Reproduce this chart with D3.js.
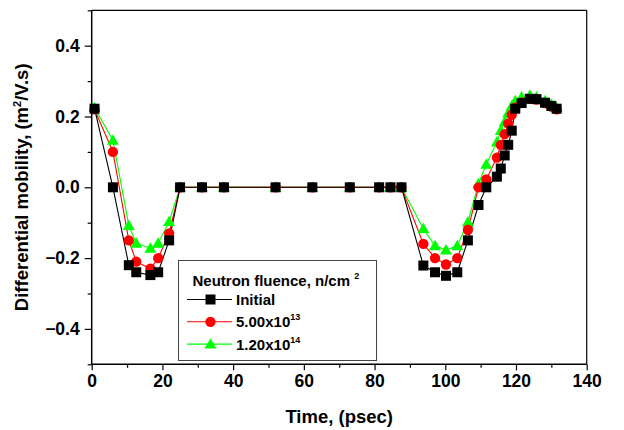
<!DOCTYPE html>
<html>
<head>
<meta charset="utf-8">
<script src="https://cdn.jsdelivr.net/npm/d3@7"></script>
<style>
  html, body { margin: 0; padding: 0; background: #fff; }
  svg { display: block; font-family: "Liberation Sans", Arial, sans-serif; font-weight: bold; }
</style>
</head>
<body>
<svg id="chart" width="624" height="430"></svg>
<script>
// Sampling times (psec)
const time = [0.8, 6, 10.5, 12.6, 16.6, 18.8, 21.9, 25, 31.2, 37.4, 52, 62.4, 73, 81.3, 84.5, 87.6,
  93.8, 97.1, 100.2, 103.4, 106.4, 109.4, 111.6, 114.6, 115.7, 116.8, 117.8, 118.8, 119.8,
  121.6, 123.9, 125.8, 128.2, 130.0, 131.5];

// Differential mobility (m^2/V.s) for each neutron fluence
const initial = [0.222, 0.0, -0.22, -0.24, -0.248, -0.24, -0.15, 0, 0, 0, 0, 0, 0, 0, 0, 0,
  -0.221, -0.24, -0.25, -0.24, -0.15, -0.05, 0.0, 0.03, 0.053, 0.09, 0.12, 0.16, 0.222,
  0.238, 0.25, 0.249, 0.239, 0.23, 0.222];
const fluence5e13 = [0.22, 0.10, -0.15, -0.21, -0.23, -0.20, -0.13, 0, 0, 0, 0, 0, 0, 0, 0, 0,
  -0.16, -0.20, -0.218, -0.20, -0.12, 0.0, 0.022, 0.084, 0.12, 0.15, 0.18, 0.205, 0.225,
  0.24, 0.25, 0.248, 0.238, 0.228, 0.22];
const fluence12e14 = [0.225, 0.133, -0.108, -0.158, -0.172, -0.158, -0.097, 0, 0, 0, 0, 0, 0, 0, 0, 0,
  -0.117, -0.165, -0.177, -0.165, -0.098, 0.01, 0.065, 0.128, 0.16, 0.185, 0.21, 0.23, 0.245,
  0.255, 0.26, 0.255, 0.245, 0.235, 0.225];

const xTicks = [0, 20, 40, 60, 80, 100, 120, 140];
const yTicks = [-0.4, -0.2, 0.0, 0.2, 0.4];

const seriesNames = ["Initial", "5.00x10", "1.20x10"];
const seriesExp = ["", "13", "14"];

const svg = d3.select("#chart");
const M = { left: 91.7, right: 586.7, top: 10.3, bottom: 364.3 };

const x = d3.scaleLinear().domain([0, 140]).range([M.left, M.right]);
const y = d3.scaleLinear().domain([-0.5, 0.5]).range([M.bottom, M.top]);

const series = [
  { name: seriesNames[2], exp: seriesExp[2], values: fluence12e14, color: "#00ff00", symbol: d3.symbolTriangle, size: 62 },
  { name: seriesNames[1], exp: seriesExp[1], values: fluence5e13, color: "#ff0000", symbol: d3.symbolCircle, size: 84 },
  { name: seriesNames[0], exp: seriesExp[0], values: initial, color: "#000000", symbol: d3.symbolSquare, size: 100 }
];

// Data lines and markers (highest fluence drawn first, initial on top)
const line = d3.line().x((d, i) => x(time[i])).y(d => y(d));
series.forEach(s => {
  svg.append("path")
    .attr("d", line(s.values))
    .attr("fill", "none")
    .attr("stroke", s.color)
    .attr("stroke-width", 1.1);
});
series.forEach(s => {
  const sym = d3.symbol().type(s.symbol).size(s.size);
  svg.append("g").selectAll("path")
    .data(s.values)
    .join("path")
    .attr("d", sym)
    .attr("transform", (d, i) => `translate(${x(time[i])},${y(d) + (s.symbol === d3.symbolTriangle ? 1 : 0)})`)
    .attr("fill", s.color);
});

// Frame (top and right)
svg.append("line").attr("x1", M.left).attr("x2", M.right).attr("y1", M.top).attr("y2", M.top)
  .attr("stroke", "#000").attr("stroke-width", 1.2);
svg.append("line").attr("x1", M.right).attr("x2", M.right).attr("y1", M.top).attr("y2", M.bottom)
  .attr("stroke", "#000").attr("stroke-width", 1.2);

// Axes with major ticks
const xAxis = d3.axisBottom(x).tickValues(xTicks).tickFormat(d3.format("d")).tickSize(6).tickPadding(4);
const yAxis = d3.axisLeft(y).tickValues(yTicks)
  .tickFormat(d => d3.format(".1f")(d).replace("-", "\u2212")).tickSize(7).tickPadding(5);

const gx = svg.append("g").attr("transform", `translate(0,${M.bottom})`).call(xAxis);
const gy = svg.append("g").attr("transform", `translate(${M.left},0)`).call(yAxis);
gx.select(".domain").attr("d", `M${M.left},0H${M.right}`).attr("stroke-width", 1.5);
gy.select(".domain").attr("d", `M0,${M.top}V${M.bottom}`).attr("stroke-width", 1.5);

// Minor ticks
svg.append("g").attr("transform", `translate(0,${M.bottom})`)
  .call(d3.axisBottom(x).tickValues(d3.range(10, 140, 20)).tickSize(3.5).tickFormat(""))
  .select(".domain").remove();
svg.append("g").attr("transform", `translate(${M.left},0)`)
  .call(d3.axisLeft(y).tickValues([-0.5, -0.3, -0.1, 0.1, 0.3, 0.5]).tickSize(4).tickFormat(""))
  .select(".domain").remove();

svg.selectAll(".tick line").attr("stroke-width", 1.2);
svg.selectAll(".tick text").attr("font-size", 17.5).attr("font-weight", "bold")
  .attr("font-family", "'Liberation Sans', Arial, sans-serif").attr("fill", "#000");

// Axis titles
svg.append("text")
  .attr("x", (M.left + M.right) / 2).attr("y", 422.5)
  .attr("text-anchor", "middle").attr("font-size", 18.5)
  .text("Time, (psec)");

const yt = svg.append("text")
  .attr("transform", `translate(27.5,${(M.top + M.bottom) / 2}) rotate(-90)`)
  .attr("text-anchor", "middle").attr("font-size", 18.5);
yt.append("tspan").text("Differential mobility, (m");
yt.append("tspan").attr("font-size", 11).attr("dy", -7).text("2");
yt.append("tspan").attr("dy", 7).text("/V.s)");

// Legend
const lg = svg.append("g");
lg.append("rect").attr("x", 178.5).attr("y", 260.5).attr("width", 198).attr("height", 100)
  .attr("fill", "#fff").attr("stroke", "#444").attr("stroke-width", 1);
const lt = lg.append("text").attr("x", 192.5).attr("y", 285.5).attr("font-size", 15);
lt.append("tspan").text("Neutron fluence, n/cm ");
lt.append("tspan").attr("font-size", 9).attr("dy", -7).text("2");

const legendOrder = [series[2], series[1], series[0]];
legendOrder.forEach((s, i) => {
  const ly = 299.5 + i * 22.3;
  lg.append("line").attr("x1", 187).attr("x2", 232).attr("y1", ly).attr("y2", ly)
    .attr("stroke", s.color).attr("stroke-width", 1.1);
  lg.append("path").attr("d", d3.symbol().type(s.symbol).size(s.size)())
    .attr("transform", `translate(210.5,${ly + (s.symbol === d3.symbolTriangle ? 1 : 0)})`)
    .attr("fill", s.color);
  const t = lg.append("text").attr("x", 236).attr("y", ly + 5.5).attr("font-size", 15);
  t.append("tspan").text(s.name);
  if (s.exp) t.append("tspan").attr("font-size", 9).attr("dy", -7).text(s.exp);
});
</script>
</body>
</html>
